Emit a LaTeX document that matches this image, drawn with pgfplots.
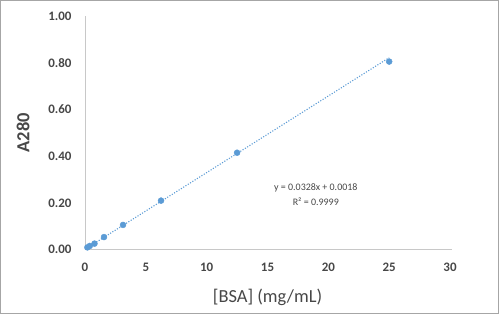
\documentclass[border=0pt]{standalone}
\usepackage{pgfplots}
\pgfplotsset{compat=1.18}
\usepackage{fontspec}
\setmainfont{Carlito}
\definecolor{tickgray}{HTML}{474747}
\definecolor{axgray}{HTML}{C8C8C8}
\definecolor{ptblue}{HTML}{5B9BD5}
\begin{document}
\begin{tikzpicture}[x=1bp,y=1bp]
\draw[draw=gray!70,line width=0.8bp] (0.4,0.4) rectangle (498.6,313.6);
\begin{axis}[
  at={(85bp,64.3bp)}, anchor=origin,
  scale only axis, width=365bp, height=233.7bp,
  xmin=0, xmax=30, ymin=0, ymax=1,
  axis x line*=bottom, axis y line*=left,
  axis line style={draw=axgray, line width=0.8bp, -},
  x axis line style={shorten >=-2bp},
  xtick={0,5,...,30}, ytick={0,0.2,...,1.0},
  major tick length=0pt,
  /pgf/number format/assume math mode=true,
  yticklabel style={/pgf/number format/fixed, /pgf/number format/fixed zerofill, /pgf/number format/precision=2, xshift=-10bp},
  ticklabel style={font=\fontsize{13}{15}\selectfont\bfseries, text=tickgray},
  xticklabel style={yshift=-10bp},
  xlabel={[BSA] (mg/mL)}, ylabel={\bfseries A280},
  label style={font=\fontsize{18.5}{20}\selectfont, text=tickgray},
  xlabel style={yshift=-10bp},
  ylabel style={yshift=12bp},
  clip=false,
]
\addplot[ptblue, line width=1.1bp, dash pattern=on 1.1bp off 1.6bp, forget plot] coordinates {(0,0.0018) (25,0.8218)};
\addplot[only marks, mark=*, mark size=3bp, mark options={fill=ptblue, draw=ptblue}] coordinates {
(0.195,0.010) (0.39,0.016) (0.78,0.026) (1.5625,0.054) (3.125,0.106) (6.25,0.210) (12.5,0.415) (25,0.805)
};
\node[font=\fontsize{10}{14.5}\selectfont, text=tickgray, align=center] at (axis cs:18.97,0.236) {y = 0.0328x + 0.0018\\R² = 0.9999};
\end{axis}
\end{tikzpicture}
\end{document}
